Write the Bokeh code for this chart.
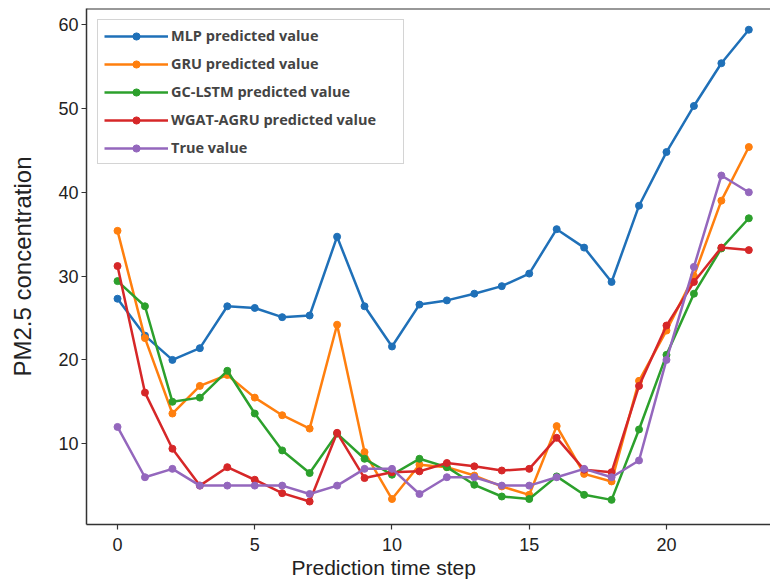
from bokeh.plotting import figure
from bokeh.models import Range1d, FixedTicker, Title, Span
from bokeh.embed import file_html
from bokeh.resources import INLINE

steps = list(range(24))
mlp = [27.3, 22.9, 20.0, 21.4, 26.4, 26.2, 25.1, 25.3, 34.7, 26.4, 21.6, 26.6,
       27.1, 27.9, 28.8, 30.3, 35.6, 33.4, 29.3, 38.4, 44.8, 50.3, 55.4, 59.4]
gru = [35.4, 22.6, 13.6, 16.9, 18.2, 15.5, 13.4, 11.8, 24.2, 9.0, 3.4, 7.5,
       7.2, 6.2, 4.9, 3.9, 12.1, 6.4, 5.5, 17.5, 23.5, 30.0, 39.0, 45.4]
gclstm = [29.4, 26.4, 15.0, 15.5, 18.7, 13.6, 9.2, 6.5, 11.2, 8.2, 6.3, 8.2,
          7.2, 5.1, 3.7, 3.4, 6.1, 3.9, 3.3, 11.7, 20.6, 27.9, 33.3, 36.9]
wgat = [31.2, 16.1, 9.4, 5.0, 7.2, 5.7, 4.1, 3.1, 11.3, 5.9, 6.6, 6.7,
        7.7, 7.3, 6.8, 7.0, 10.7, 6.9, 6.6, 16.9, 24.1, 29.3, 33.4, 33.1]
true_vals = [12.0, 6.0, 7.0, 5.0, 5.0, 5.0, 5.0, 4.0, 5.0, 7.0, 7.0, 4.0,
             6.0, 6.0, 5.0, 5.0, 6.0, 7.0, 6.0, 8.0, 20.0, 31.1, 42.0, 40.0]

series_names = ["MLP predicted value", "GRU predicted value", "GC-LSTM predicted value",
                "WGAT-AGRU predicted value", "True value"]
series_vals = [mlp, gru, gclstm, wgat, true_vals]
colors = ["#1f70b8", "#ff7f0e", "#2ca02c", "#d62728", "#9467bd"]
x_ticks = [0, 5, 10, 15, 20]
y_ticks = [10, 20, 30, 40, 50, 60]

p = figure(width=770, height=582, output_backend="svg", toolbar_location=None,
           x_range=Range1d(-1.13, 23.79), y_range=Range1d(0.36, 61.93),
           min_border_left=86, min_border_right=0, min_border_top=8, min_border_bottom=58)
p.grid.visible = False
p.background_fill_color = "white"
p.border_fill_color = "white"
p.outline_line_color = None

# top spine (the reference is cropped on the right, so no right spine)
p.add_layout(Span(location=p.y_range.end, dimension="width",
                  line_color="#333333", line_width=2))

for name, vals, c in zip(series_names, series_vals, colors):
    p.line(steps, vals, line_color=c, line_width=2.5, legend_label=name)
    p.scatter(steps, vals, size=7, fill_color=c, line_color=c, legend_label=name)

for ax in (p.xaxis[0], p.yaxis[0]):
    ax.axis_line_color = "#333333"
    ax.axis_line_width = 1.5
    ax.major_tick_line_color = "#333333"
    ax.major_tick_line_width = 1.2
    ax.major_tick_out = 5
    ax.major_tick_in = 0
    ax.minor_tick_line_color = None
    ax.major_label_text_font = "Liberation Sans"
    ax.major_label_text_font_size = "18px"
    ax.major_label_text_color = "#222222"

p.xaxis.ticker = FixedTicker(ticks=x_ticks)
p.yaxis.ticker = FixedTicker(ticks=y_ticks)
p.xaxis.major_label_standoff = 8
p.yaxis.major_label_standoff = 3

p.yaxis.axis_label = "PM2.5 concentration"
p.yaxis.axis_label_text_font = "Liberation Sans"
p.yaxis.axis_label_text_font_size = "24px"
p.yaxis.axis_label_text_font_style = "normal"
p.yaxis.axis_label_text_color = "#222222"
p.yaxis.axis_label_standoff = 19

xt = Title(text="Prediction time step", align="left", offset=205,
           text_font="Liberation Sans", text_font_size="21px",
           text_font_style="normal", text_color="#222222", standoff=0)
p.add_layout(xt, "below")

lg = p.legend[0]
lg.location = "top_left"
lg.margin = 11
lg.padding = 6
lg.spacing = 9
lg.glyph_width = 64
lg.glyph_height = 18
lg.label_height = 18
lg.label_width = 226
lg.label_standoff = 3
lg.label_text_font = "Open Sans"
lg.label_text_font_style = "bold"
lg.label_text_font_size = "14.5px"
lg.label_text_color = "#444444"
lg.border_line_color = "#aaaaaa"
lg.border_line_width = 1.5
lg.background_fill_color = "white"
lg.background_fill_alpha = 1.0

open("out.html", "w").write(file_html(p, INLINE))
